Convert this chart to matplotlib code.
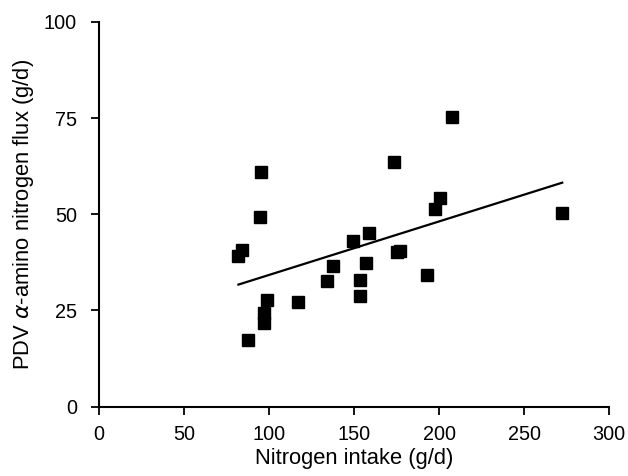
import matplotlib.pyplot as plt

plt.rcParams['font.family'] = ['Liberation Sans', 'DejaVu Sans']

# Nitrogen intake (g/d) vs PDV alpha-amino nitrogen flux (g/d)
n_intake = [95.3, 94.7, 83.9, 81.9, 87.6, 98.6, 96.7, 96.7, 116.7, 133.9,
            137.5, 149.2, 158.8, 157.1, 153.5, 153.5, 173.5, 175.1, 177.0,
            192.7, 197.6, 200.6, 207.8, 272.4]
aa_flux = [61.1, 49.4, 40.8, 39.1, 17.4, 27.8, 24.3, 21.7, 27.2, 32.6,
           36.6, 43.0, 45.1, 37.3, 32.8, 28.8, 63.6, 40.1, 40.4,
           34.3, 51.4, 54.1, 75.4, 50.4]

# regression line end points
fit_x = [81.9, 272.4]
fit_y = [31.7, 58.2]

fig = plt.figure(figsize=(6.28, 4.76), dpi=100)
ax = fig.add_axes([0.158, 0.146, 0.812, 0.808])

ax.plot(n_intake, aa_flux, 's', color='black', markersize=8.6, clip_on=False)
ax.plot(fit_x, fit_y, '-', color='black', linewidth=1.6)

ax.set_xlim(0, 300)
ax.set_ylim(0, 100)
ax.set_xticks([0, 50, 100, 150, 200, 250, 300])
ax.set_yticks([0, 25, 50, 75, 100])

for side in ['top', 'right']:
    ax.spines[side].set_visible(False)
for side in ['left', 'bottom']:
    ax.spines[side].set_linewidth(1.5)
ax.tick_params(direction='out', length=6, width=1.3, labelsize=14.3)
ax.tick_params(axis='x', pad=7)
ax.tick_params(axis='y', pad=10)

ax.set_xlabel('Nitrogen intake (g/d)', fontsize=15.8, labelpad=3)
ax.set_ylabel(r'PDV $\alpha$-amino nitrogen flux (g/d)', fontsize=15.8, labelpad=6)

plt.savefig('out.png', dpi=100)
